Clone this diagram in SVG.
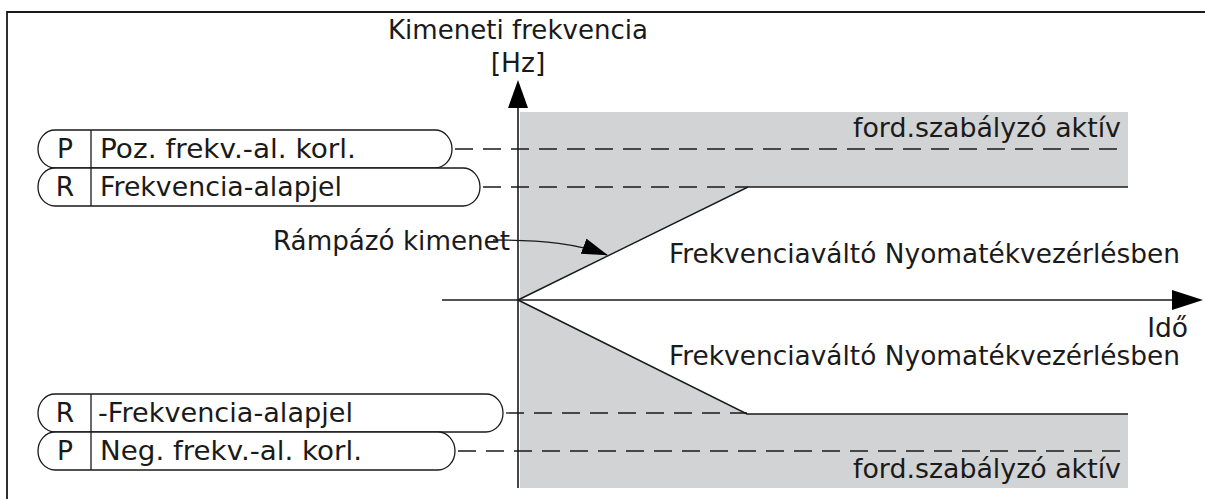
<svg xmlns="http://www.w3.org/2000/svg" width="1205" height="499" viewBox="0 0 1205 499">
<style>
text{font-family:"DejaVu Sans","Verdana",sans-serif;font-size:26.5px;fill:#1a1a1a}
.pill{fill:#fff;stroke:#1a1a1a;stroke-width:1.3}
.div{stroke:#1a1a1a;stroke-width:1.3}
.dash{stroke:#1a1a1a;stroke-width:1.3;stroke-dasharray:18 10;fill:none}
.ln{stroke:#1a1a1a;stroke-width:1.4;fill:none}
.ax{stroke:#1a1a1a;stroke-width:1.6;fill:none}
.gray{fill:#d1d3d4}
</style>
<defs>
<marker id="ah" markerWidth="26" markerHeight="16" refX="25" refY="8" orient="auto" markerUnits="userSpaceOnUse">
<path d="M0,0 L26,8 L0,16 Z" fill="#000"/>
</marker>
</defs>
<rect width="1205" height="499" fill="#fff"/>
<g id="frame">
<path d="M7,499 V12 H1205" stroke="#1a1a1a" stroke-width="1.8" fill="none"/>
</g>
<g id="regions">
<polygon class="gray" points="520,112 1128,112 1128,187 748,187 520,300"/>
<polygon class="gray" points="520,300 747,414 1128,414 1128,488 520,488"/>
</g>
<g id="labels">
<text x="518" y="39" text-anchor="middle" textLength="260" lengthAdjust="spacingAndGlyphs">Kimeneti frekvencia</text>
<text x="518" y="72" text-anchor="middle">[Hz]</text>
<text x="1121" y="137" text-anchor="end" textLength="268" lengthAdjust="spacingAndGlyphs">ford.szabályzó aktív</text>
<text x="1121" y="478" text-anchor="end" textLength="268" lengthAdjust="spacingAndGlyphs">ford.szabályzó aktív</text>
<text x="1180" y="263" text-anchor="end" textLength="511" lengthAdjust="spacingAndGlyphs">Frekvenciaváltó Nyomatékvezérlésben</text>
<text x="1180" y="365" text-anchor="end" textLength="511" lengthAdjust="spacingAndGlyphs">Frekvenciaváltó Nyomatékvezérlésben</text>
<text x="1188" y="337" text-anchor="end">Idő</text>
<text x="510" y="250" text-anchor="end" textLength="237" lengthAdjust="spacingAndGlyphs">Rámpázó kimenet</text>
</g>
<g id="connectors">
<line class="dash" x1="455" y1="149" x2="1117" y2="149"/>
<line class="dash" x1="483" y1="187" x2="748" y2="187"/>
<line class="dash" x1="506" y1="413" x2="747" y2="413"/>
<line class="dash" x1="458" y1="451" x2="1125" y2="451"/>
<path class="ln" d="M493,240 C545,240 578,244 607,255" marker-end="url(#ah)"/>
<path class="ln" d="M518,300 L748,187 H1128"/>
<path class="ln" d="M518,300 L747,414 H1128"/>
</g>
<g id="axes">
<line class="ax" x1="518" y1="488" x2="518" y2="104"/>
<polygon points="518,80 508,108 528,108" fill="#000"/>
<line class="ax" x1="442" y1="300" x2="1176" y2="300"/>
<polygon points="1203,300 1172,290 1172,310" fill="#000"/>
</g>
<g id="pill-pos-limit">
<rect class="pill" x="38" y="130" width="414" height="38" rx="17" ry="19"/>
<line class="div" x1="91" y1="130" x2="91" y2="168"/>
<text x="65" y="158" text-anchor="middle">P</text>
<text x="100" y="158" textLength="256" lengthAdjust="spacingAndGlyphs">Poz. frekv.-al. korl.</text>
</g>
<g id="pill-freq-ref">
<rect class="pill" x="38" y="168" width="442" height="38" rx="17" ry="19"/>
<line class="div" x1="91" y1="168" x2="91" y2="206"/>
<text x="65" y="196" text-anchor="middle">R</text>
<text x="100" y="196" textLength="242" lengthAdjust="spacingAndGlyphs">Frekvencia-alapjel</text>
</g>
<g id="pill-neg-ref">
<rect class="pill" x="38" y="394" width="465" height="38" rx="17" ry="19"/>
<line class="div" x1="91" y1="394" x2="91" y2="432"/>
<text x="65" y="422" text-anchor="middle">R</text>
<text x="98" y="422" textLength="255" lengthAdjust="spacingAndGlyphs">-Frekvencia-alapjel</text>
</g>
<g id="pill-neg-limit">
<rect class="pill" x="38" y="432" width="417" height="38" rx="17" ry="19"/>
<line class="div" x1="91" y1="432" x2="91" y2="470"/>
<text x="65" y="460" text-anchor="middle">P</text>
<text x="100" y="460" textLength="262" lengthAdjust="spacingAndGlyphs">Neg. frekv.-al. korl.</text>
</g>
</svg>
